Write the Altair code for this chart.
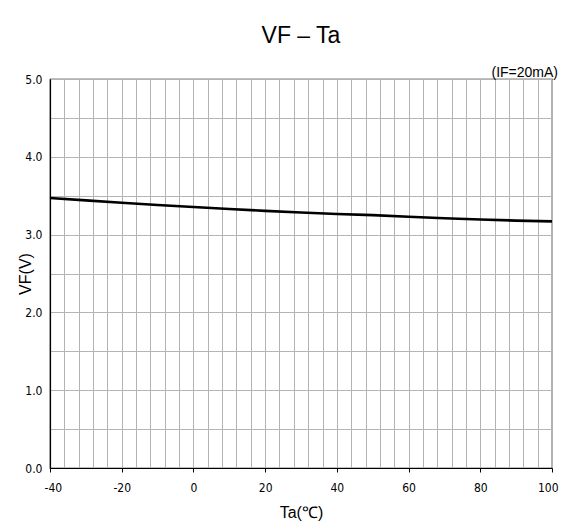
import altair as alt
import pandas as pd

# Data
ta = [-40, -30, -20, -10, 0, 10, 20, 30, 40, 50, 60, 70, 80, 90, 100]
vf = [3.47, 3.44, 3.41, 3.38, 3.355, 3.33, 3.305, 3.285, 3.265, 3.25, 3.23, 3.21, 3.195, 3.18, 3.17]

x_grid = list(range(-40, 101, 4))
y_grid = [i * 0.5 for i in range(11)]

title_text = "VF – Ta"
cond_text = "(IF=20mA)"
x_title = "Ta(℃)"
y_title = "VF(V)"

df = pd.DataFrame({"Ta": ta, "VF": vf})

W, H = 502, 389
FONT = "Liberation Sans"
LFONT = "Liberation Sans Narrow, DejaVu Sans Condensed, Liberation Sans"

line = alt.Chart(df).mark_line(color="black", strokeWidth=2.6).encode(
    x=alt.X("Ta:Q",
            scale=alt.Scale(domain=[-40, 100], nice=False, zero=False),
            axis=alt.Axis(
                values=x_grid,
                labelExpr="datum.value % 20 === 0 ? toString(datum.value) : ''",
                tickOpacity={"condition": {"test": "datum.value % 20 === 0", "value": 1}, "value": 0},
                tickSize=4, tickColor="black",
                grid=True, gridColor="#b4b4b4", gridWidth=1,
                domainColor="black", domainWidth=1.2,
                labelFont=LFONT, labelFontSize=12, labelColor="black",
                labelPadding=10, labelFlush=True, labelFlushOffset=6,
                title=x_title, titleFont=FONT, titleFontSize=16,
                titleFontWeight="normal", titleColor="black", titlePadding=11,
            )),
    y=alt.Y("VF:Q",
            scale=alt.Scale(domain=[0, 5], nice=False, zero=True),
            axis=alt.Axis(
                values=y_grid,
                labelExpr="datum.value % 1 === 0 ? format(datum.value, '.1f') : ''",
                ticks=False,
                grid=True, gridColor="#b4b4b4", gridWidth=1,
                domainColor="black", domainWidth=1.2,
                labelFont=LFONT, labelFontSize=12, labelColor="black",
                labelPadding=8, labelFlush=False,
                title=y_title, titleFont=FONT, titleFontSize=16,
                titleFontWeight="normal", titleColor="black",
                titleX=-25, titleY=H / 2, titleAngle=270,
                titleAlign="center", titleBaseline="middle",
            )),
)

one = pd.DataFrame({"a": [0]})
title_mark = alt.Chart(one).mark_text(
    font=FONT, fontSize=23, color="black", align="center", baseline="middle"
).encode(x=alt.value(W / 2), y=alt.value(-43), text=alt.value(title_text))

cond_mark = alt.Chart(one).mark_text(
    font=FONT, fontSize=14, color="black", align="right", baseline="middle"
).encode(x=alt.value(W + 6), y=alt.value(-6), text=alt.value(cond_text))

chart = alt.layer(line, title_mark, cond_mark).properties(
    width=W, height=H,
    autosize=alt.AutoSizeParams(type="none"),
    padding={"left": 42, "top": 71, "right": 7, "bottom": 54},
).configure_view(stroke="black", strokeWidth=1.2)

chart.save("out.html", embed_options={"renderer": "svg", "actions": False})
